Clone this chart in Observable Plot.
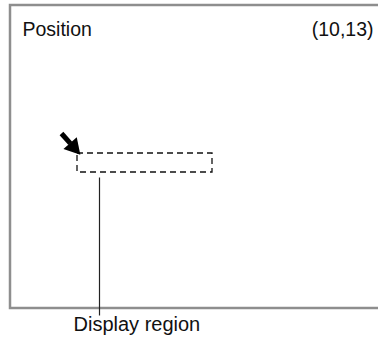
<!DOCTYPE html>
<html>
<head>
<meta charset="utf-8">
<script src="https://cdn.jsdelivr.net/npm/d3@7"></script>
<script src="https://cdn.jsdelivr.net/npm/@observablehq/plot@0.6"></script>
<style>
  html, body { margin: 0; padding: 0; background: #fff; }
  #chart svg { display: block; }
</style>
</head>
<body>
<div id="chart"></div>
<script>
// Diagram coordinate space (screen units, y grows downward)
const frameX = [10, 392];
const frameY = [5, 308];
const headerLabels = ["Position", "(10,13)"];
const headerX = [22, 373];
const headerY = [29, 29];
const regionX = [77, 212];
const regionY = [153, 172];
const arrowFrom = [61, 133];
const arrowTo = [77, 151];
const leaderX = [99, 99];
const leaderY = [177, 315];
const calloutLabel = ["Display region"];
const calloutX = [73];
const calloutY = [324];

const font = "Liberation Sans, Arial, Helvetica, sans-serif";
const ang = Math.atan2(arrowTo[1] - arrowFrom[1], arrowTo[0] - arrowFrom[0]) * 180 / Math.PI;
const rad = ang * Math.PI / 180;

const chart = Plot.plot({
  width: 378,
  height: 342,
  margin: 0,
  style: {fontFamily: font, background: "#fff"},
  x: {domain: [0, 378], axis: null},
  y: {domain: [0, 342], axis: null, reverse: true},
  marks: [
    Plot.rect([{x1: frameX[0], x2: frameX[1], y1: frameY[0], y2: frameY[1]}],
      {x1: "x1", x2: "x2", y1: "y1", y2: "y2", fill: "none", stroke: "#8e8e8e", strokeWidth: 2.5}),
    Plot.text([headerLabels[0]], {x: [headerX[0]], y: [headerY[0]], text: d => d, textAnchor: "start", fontSize: 19.5, fill: "#111"}),
    Plot.text([headerLabels[1]], {x: [headerX[1]], y: [headerY[1]], text: d => d, textAnchor: "end", fontSize: 19.5, fill: "#111"}),
    Plot.rect([{x1: regionX[0], x2: regionX[1], y1: regionY[0], y2: regionY[1]}],
      {x1: "x1", x2: "x2", y1: "y1", y2: "y2", fill: "none", stroke: "#111", strokeWidth: 1.3, strokeDasharray: "6,4"}),
    Plot.link([{x1: arrowFrom[0], y1: arrowFrom[1], x2: arrowTo[0], y2: arrowTo[1]}],
      {x1: "x1", y1: "y1", x2: d => d.x1 + (d.x2 - d.x1) * 0.55, y2: d => d.y1 + (d.y2 - d.y1) * 0.55, stroke: "#000", strokeWidth: 5}),
    Plot.dot([{x: arrowTo[0], y: arrowTo[1]}], {
      x: d => d.x - 6 * Math.cos(rad), y: d => d.y - 6 * Math.sin(rad),
      symbol: "triangle2", r: 8.5, fill: "#000", stroke: "none", rotate: ang + 90
    }),
    Plot.link([{x1: leaderX[0], y1: leaderY[0], x2: leaderX[1], y2: leaderY[1]}],
      {x1: "x1", y1: "y1", x2: "x2", y2: "y2", stroke: "#222", strokeWidth: 1.2}),
    Plot.text(calloutLabel, {x: calloutX, y: calloutY, text: d => d, textAnchor: "start", fontSize: 20, fill: "#111"})
  ]
});
document.getElementById("chart").appendChild(chart);
</script>
</body>
</html>
